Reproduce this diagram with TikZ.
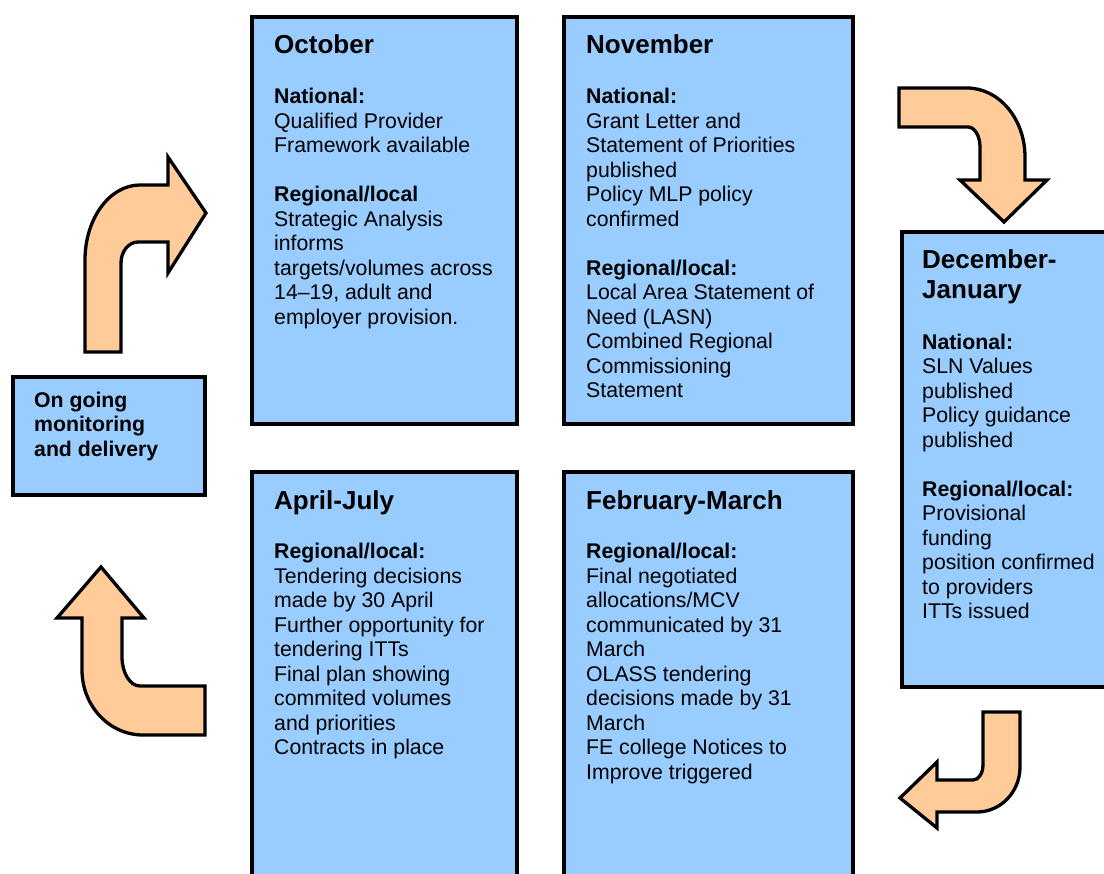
\documentclass[tikz,border=0pt]{standalone}
\usepackage{fontspec}
\setmainfont{Liberation Sans}
\definecolor{boxblue}{HTML}{99CCFF}
\definecolor{arrowtan}{HTML}{FFCC99}
\begin{document}
\begin{tikzpicture}[x=1pt,y=-1pt,
  panel/.style={draw=black, line width=3.5pt, fill=boxblue, anchor=north west, inner sep=0pt, outer sep=0pt},
  bentarrow/.style={draw=black, line width=3.3pt, fill=arrowtan, line join=miter},
  ttl/.style={anchor=base west, inner sep=0pt, font=\bfseries\fontsize{26}{30.5}\selectfont, align=left},
  bodytext/.style={anchor=north west, inner sep=0pt, font=\fontsize{21.25}{24.5}\selectfont, align=left}]
\useasboundingbox (0,0) rectangle (1104,874);

% panels
\node[panel, minimum width=265pt, minimum height=407pt] (octbox) at (252,17) {};
\node[panel, minimum width=289pt, minimum height=407pt] (novbox) at (564,17) {};
\node[panel, minimum width=220pt, minimum height=455pt] (decbox) at (902,232) {};
\node[panel, minimum width=192pt, minimum height=118pt] (gobox) at (13,377) {};
\node[panel, minimum width=265pt, minimum height=430pt] (aprbox) at (252,472) {};
\node[panel, minimum width=289pt, minimum height=430pt] (febbox) at (564,472) {};

% arrows
\path[bentarrow] (85,352) -- (85,260)
  arc[start angle=180, end angle=270, x radius=55, y radius=75]
  -- (168,185) -- (168,157) -- (206,213) -- (168,273) -- (168,242) -- (138,242)
  arc[start angle=270, end angle=180, x radius=17, y radius=21]
  -- (121,352) -- cycle;
\path[bentarrow] (899,88) -- (967,88)
  arc[start angle=270, end angle=360, x radius=58, y radius=69]
  -- (1025,180) -- (1047,180) -- (1004,222) -- (960,180) -- (980,180) -- (980,147)
  arc[start angle=0, end angle=-90, x radius=12, y radius=20]
  -- (899,127) -- cycle;
\path[bentarrow] (983,712) -- (1020,712) -- (1020,767)
  arc[start angle=0, end angle=90, x radius=43, y radius=45]
  -- (937,812) -- (937,828) -- (900,798) -- (937,762) -- (937,780) -- (973,780)
  arc[start angle=90, end angle=0, x radius=10, y radius=15]
  -- cycle;
\path[bentarrow] (205,686) -- (140,686)
  arc[start angle=90, end angle=180, x radius=18, y radius=29]
  -- (122,618) -- (144,618) -- (101,567) -- (57,618) -- (82,618) -- (82,670)
  arc[start angle=180, end angle=90, x radius=61, y radius=65]
  -- (205,735) -- cycle;

% October
\node[ttl] (octtitle) at (274,53.5) {October};
\node[bodytext] (octbody) at (274,86.35) {\strut\textbf{National:}\\
Qualified Provider\\
Framework available\\[24.5pt]
\textbf{Regional/local}\\
Strategic Analysis\\
informs\\
targets/volumes across\\
14–19, adult and\\
employer provision.};

% November
\node[ttl] (novtitle) at (586,53.5) {November};
\node[bodytext] (novbody) at (586,86.35) {\strut\textbf{National:}\\
Grant Letter and\\
Statement of Priorities\\
published\\
Policy MLP policy\\
confirmed\\[24.5pt]
\textbf{Regional/local:}\\
Local Area Statement of\\
Need (LASN)\\
Combined Regional\\
Commissioning\\
Statement};

% December-January
\node[ttl] (dectitle) at (922,299) {December-\\January};
\node[bodytext] (decbody) at (922,331.85) {\strut\textbf{National:}\\
SLN Values\\
published\\
Policy guidance\\
published\\[24.5pt]
\textbf{Regional/local:}\\
Provisional\\
funding\\
position confirmed\\
to providers\\
ITTs issued};

% On going
\node[bodytext, font=\bfseries\fontsize{21.25}{24.5}\selectfont] (gotext) at (34,389.85) {\strut On going\\
monitoring\\
and delivery};

% April-July
\node[ttl] (aprtitle) at (274,509.5) {April-July};
\node[bodytext] (aprbody) at (274,541.35) {\strut\textbf{Regional/local:}\\
Tendering decisions\\
made by 30 April\\
Further opportunity for\\
tendering ITTs\\
Final plan showing\\
commited volumes\\
and priorities\\
Contracts in place};

% February-March
\node[ttl] (febtitle) at (586,509.5) {February-March};
\node[bodytext] (febbody) at (586,541.35) {\strut\textbf{Regional/local:}\\
Final negotiated\\
allocations/MCV\\
communicated by 31\\
March\\
OLASS tendering\\
decisions made by 31\\
March\\
FE college Notices to\\
Improve triggered};
\end{tikzpicture}
\end{document}
